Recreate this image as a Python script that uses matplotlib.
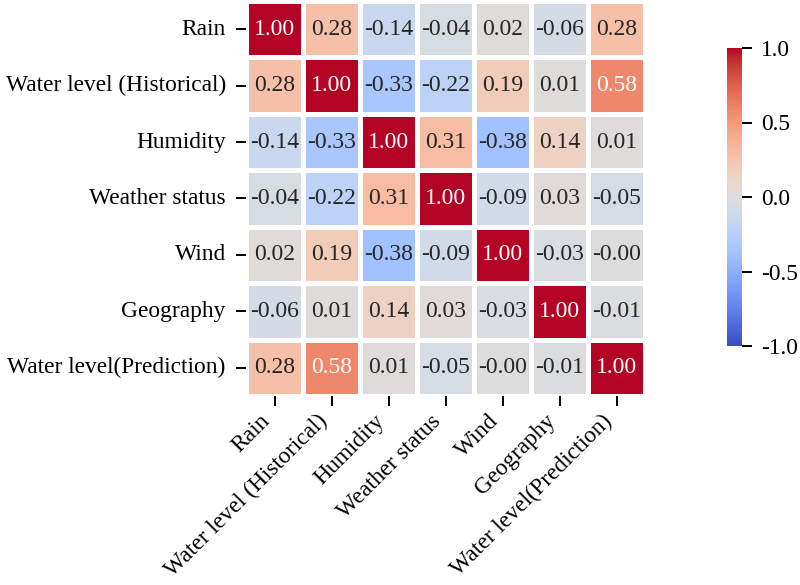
import numpy as np
import matplotlib
matplotlib.use("Agg")
import matplotlib.pyplot as plt
import seaborn as sns

labels = ["Rain", "Water level (Historical)", "Humidity", "Weather status",
          "Wind", "Geography", "Water level(Prediction)"]

corr = np.array([
    [1.00, 0.28, -0.14, -0.04, 0.02, -0.06, 0.28],
    [0.28, 1.00, -0.33, -0.22, 0.19, 0.01, 0.58],
    [-0.14, -0.33, 1.00, 0.31, -0.38, 0.14, 0.01],
    [-0.04, -0.22, 0.31, 1.00, -0.09, 0.03, -0.05],
    [0.02, 0.19, -0.38, -0.09, 1.00, -0.03, -0.00],
    [-0.06, 0.01, 0.14, 0.03, -0.03, 1.00, -0.01],
    [0.28, 0.58, 0.01, -0.05, -0.00, -0.01, 1.00],
])

plt.rcParams['font.family'] = ['Liberation Serif', 'DejaVu Serif']
plt.rcParams['axes.unicode_minus'] = False
fs = 16.8

fig = plt.figure(figsize=(8, 5.85), dpi=100)
# axes placed in figure fractions (pixels / 800, pixels / 585)
ax = fig.add_axes([246 / 800, 1 - 396 / 585, 399 / 800, 395 / 585])
cax = fig.add_axes([727 / 800, 1 - 346 / 585, 15 / 800, 298 / 585])

sns.heatmap(corr, ax=ax, cbar_ax=cax, cmap="coolwarm", vmin=-1, vmax=1,
            annot=True, fmt=".2f", linewidths=2.5, linecolor="white",
            annot_kws={"size": 17}, xticklabels=labels, yticklabels=labels)

ax.set_xticklabels(labels, rotation=45, ha="right")
ax.set_yticklabels(labels, rotation=0)
ax.tick_params(axis="both", length=7.5, width=1.4, labelsize=fs)
ax.tick_params(axis="y", pad=7)
ax.tick_params(axis="x", pad=3)
cax.tick_params(length=7.5, width=1.4, labelsize=fs, pad=6)
cax.set_yticks([-1.0, -0.5, 0.0, 0.5, 1.0])
cax.set_yticklabels(["-1.0", "-0.5", "0.0", "0.5", "1.0"])

fig.savefig("out.png", dpi=100)
